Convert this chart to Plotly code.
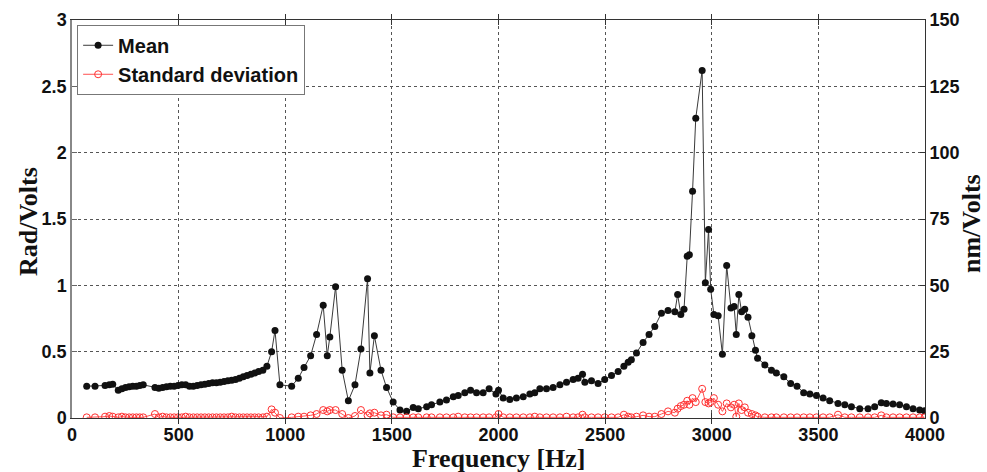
import plotly.graph_objects as go

freq = [69, 108, 155, 175, 191, 217, 234, 251, 268, 285,
        302, 318, 334, 389, 407, 425, 443, 461, 479, 497,
        515, 533, 551, 569, 587, 605, 623, 641, 659, 677,
        695, 713, 731, 749, 767, 785, 803, 821, 839, 857,
        875, 895, 914, 936, 952, 975, 1030, 1061, 1088, 1119,
        1147, 1178, 1197, 1209, 1236, 1267, 1296, 1327, 1355, 1386,
        1397, 1418, 1449, 1475, 1506, 1538, 1569, 1600, 1624, 1663,
        1686, 1725, 1756, 1788, 1811, 1842, 1869, 1897, 1928, 1956,
        1988, 2000, 2022, 2053, 2084, 2116, 2147, 2170, 2194, 2225,
        2256, 2288, 2319, 2350, 2373, 2394, 2405, 2436, 2467, 2498,
        2530, 2561, 2588, 2608, 2623, 2647, 2678, 2706, 2733, 2764,
        2795, 2827, 2840, 2855, 2870, 2885, 2895, 2910, 2925, 2955,
        2970, 2985, 2995, 3010, 3030, 3050, 3070, 3090, 3105, 3115,
        3127, 3140, 3155, 3170, 3188, 3205, 3215, 3249, 3280, 3303,
        3338, 3370, 3400, 3431, 3460, 3491, 3522, 3553, 3592, 3624,
        3655, 3694, 3733, 3764, 3795, 3819, 3850, 3881, 3913, 3944,
        3975, 3998]

mean = [0.24, 0.24, 0.245, 0.25, 0.255, 0.21, 0.22, 0.23, 0.235, 0.24,
        0.24, 0.245, 0.25, 0.23, 0.225, 0.23, 0.235, 0.24, 0.24, 0.245,
        0.25, 0.25, 0.24, 0.24, 0.245, 0.25, 0.255, 0.26, 0.265, 0.265,
        0.27, 0.275, 0.28, 0.285, 0.29, 0.30, 0.31, 0.32, 0.33, 0.34,
        0.35, 0.36, 0.39, 0.50, 0.66, 0.25, 0.24, 0.30, 0.38, 0.47,
        0.63, 0.85, 0.47, 0.61, 0.99, 0.36, 0.13, 0.25, 0.52, 1.05,
        0.34, 0.62, 0.36, 0.23, 0.12, 0.06, 0.05, 0.08, 0.07, 0.085,
        0.10, 0.12, 0.135, 0.16, 0.17, 0.19, 0.21, 0.19, 0.19, 0.22,
        0.18, 0.21, 0.15, 0.14, 0.15, 0.16, 0.18, 0.19, 0.22, 0.22,
        0.23, 0.25, 0.27, 0.29, 0.30, 0.33, 0.27, 0.28, 0.26, 0.29,
        0.32, 0.35, 0.39, 0.42, 0.44, 0.49, 0.57, 0.63, 0.69, 0.79,
        0.81, 0.80, 0.93, 0.78, 0.82, 1.22, 1.23, 1.71, 2.26, 2.62,
        1.02, 1.42, 0.97, 0.78, 0.77, 0.48, 1.15, 0.83, 0.84, 0.63,
        0.93, 0.80, 0.82, 0.76, 0.62, 0.51, 0.45, 0.40, 0.36, 0.34,
        0.31, 0.26, 0.24, 0.19, 0.18, 0.17, 0.15, 0.13, 0.11, 0.10,
        0.085, 0.07, 0.07, 0.085, 0.115, 0.11, 0.105, 0.10, 0.085, 0.07,
        0.06, 0.055]

std = [0.005, 0.005, 0.01, 0.015, 0.01, 0.005, 0.01, 0.005, 0.005, 0.005,
       0.005, 0.005, 0.005, 0.03, 0.005, 0.01, 0.005, 0.005, 0.005, 0.005,
       0.005, 0.01, 0.005, 0.005, 0.005, 0.005, 0.005, 0.005, 0.005, 0.005,
       0.005, 0.005, 0.005, 0.01, 0.005, 0.005, 0.005, 0.005, 0.005, 0.005,
       0.005, 0.005, 0.01, 0.065, 0.04, 0.0, 0.005, 0.01, 0.01, 0.02,
       0.03, 0.06, 0.05, 0.06, 0.06, 0.03, 0.0, 0.015, 0.06, 0.02,
       0.035, 0.04, 0.02, 0.025, 0.005, 0.005, 0.005, 0.005, 0.005, 0.005,
       0.005, 0.005, 0.005, 0.005, 0.01, 0.005, 0.005, 0.005, 0.005, 0.005,
       0.005, 0.03, 0.005, 0.005, 0.005, 0.005, 0.005, 0.01, 0.005, 0.005,
       0.005, 0.005, 0.01, 0.005, 0.005, 0.025, 0.005, 0.005, 0.005, 0.005,
       0.005, 0.005, 0.025, 0.01, 0.005, 0.01, 0.02, 0.01, 0.01, 0.03,
       0.05, 0.04, 0.07, 0.09, 0.10, 0.13, 0.10, 0.15, 0.12, 0.22,
       0.12, 0.11, 0.12, 0.15, 0.10, 0.05, 0.11, 0.08, 0.10, 0.01,
       0.11, 0.06, 0.08, 0.04, 0.03, 0.02, 0.01, 0.005, 0.005, 0.005,
       0.005, 0.005, 0.005, 0.005, 0.005, 0.005, 0.005, 0.005, 0.025, 0.005,
       0.005, 0.005, 0.005, 0.005, 0.02, 0.005, 0.005, 0.005, 0.005, 0.005,
       0.005, 0.005]

x_ticks = [0, 500, 1000, 1500, 2000, 2500, 3000, 3500, 4000]
y_ticks = [0, 0.5, 1, 1.5, 2, 2.5, 3]
y_tick_text = ["0", "0.5", "1", "1.5", "2", "2.5", "3"]
y2_ticks = [0, 25, 50, 75, 100, 125, 150]

SANS = "Liberation Sans, Arial, sans-serif"
SERIF = "Liberation Serif, Times New Roman, serif"
title_font = dict(family=SERIF, size=26, color="#111111", weight="bold")
tick_font = dict(family=SANS, size=18, color="#111111", weight="bold")

fig = go.Figure()
fig.add_trace(go.Scatter(
    x=freq, y=mean, name="Mean", mode="lines+markers",
    line=dict(color="#3a3a3a", width=1),
    marker=dict(color="#111111", size=7, symbol="circle"),
))
fig.add_trace(go.Scatter(
    x=freq, y=std, name="Standard deviation", mode="lines+markers",
    line=dict(color="#ff5050", width=1),
    marker=dict(color="#ff3030", size=7, symbol="circle-open",
                line=dict(width=1)),
))
fig.add_trace(go.Scatter(x=[], y=[], yaxis="y2", showlegend=False,
                         hoverinfo="skip"))

fig.update_layout(
    width=987, height=472,
    margin=dict(l=72, r=62, t=20, b=54),
    paper_bgcolor="white", plot_bgcolor="white",
    showlegend=True,
    legend=dict(
        x=0.006, y=0.988, xanchor="left", yanchor="top",
        bgcolor="white", bordercolor="#777777", borderwidth=1,
        font=dict(family=SANS, size=20, color="#111111", weight="bold"),
        tracegroupgap=0, itemwidth=30,
    ),
    xaxis=dict(
        range=[0, 4000], tickvals=x_ticks, ticktext=[str(v) for v in x_ticks],
        showline=True, linecolor="#333333", linewidth=1, mirror="allticks",
        ticks="inside", ticklen=5, tickcolor="#333333",
        showgrid=True, gridcolor="#555555", griddash="dot", gridwidth=1,
        zeroline=False, automargin=False,
        tickfont=tick_font,
    ),
    yaxis=dict(
        range=[0, 3], tickvals=y_ticks, ticktext=y_tick_text,
        showline=True, linecolor="#888888", linewidth=1.5,
        ticks="inside", ticklen=5, tickcolor="#666666",
        showgrid=True, gridcolor="#555555", griddash="dot", gridwidth=1,
        zeroline=False, automargin=False,
        tickfont=tick_font,
    ),
    yaxis2=dict(
        range=[0, 150], tickvals=y2_ticks, ticktext=[str(v) for v in y2_ticks],
        overlaying="y", side="right", anchor="x",
        showline=True, linecolor="#333333", linewidth=1,
        ticks="inside", ticklen=5, tickcolor="#333333",
        showgrid=False, zeroline=False, automargin=False,
        tickfont=tick_font,
    ),
    annotations=[
        dict(text="Frequency [Hz]", xref="paper", yref="paper", x=0.5, y=0,
             yshift=-40, showarrow=False, xanchor="center", yanchor="middle",
             font=title_font),
        dict(text="Rad/Volts", xref="paper", yref="paper", x=0, y=0.5,
             xshift=-44, yshift=-3, textangle=-90, showarrow=False,
             xanchor="center", yanchor="middle", font=title_font),
        dict(text="nm/Volts", xref="paper", yref="paper", x=1, y=0.5,
             xshift=46, yshift=-5, textangle=-90, showarrow=False,
             xanchor="center", yanchor="middle", font=title_font),
    ],
)

fig.write_html("out.html")
